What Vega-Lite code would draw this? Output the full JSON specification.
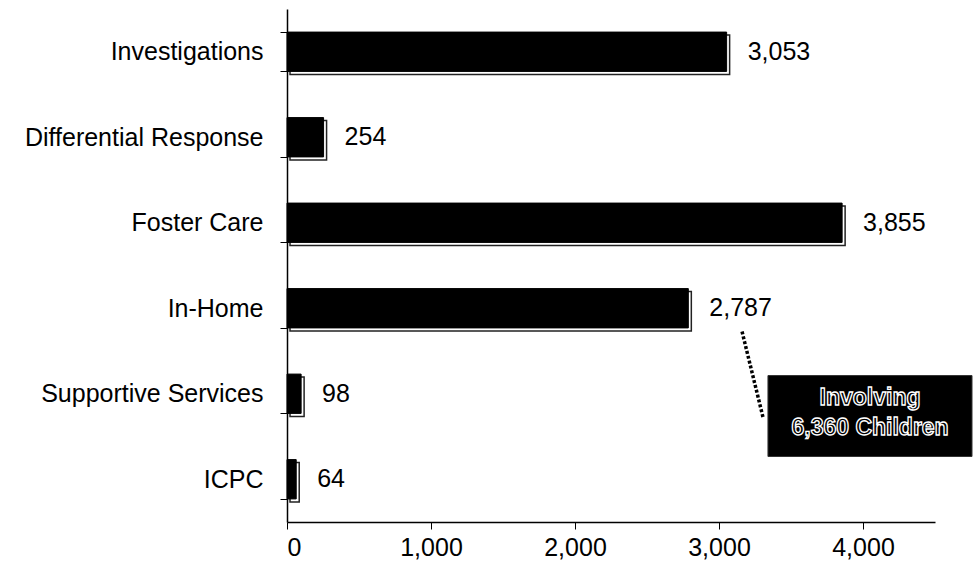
{
  "$schema": "https://vega.github.io/schema/vega-lite/v6.json",
  "autosize": {"type": "none"},
  "width": 648,
  "height": 513,
  "padding": {"left": 287, "top": 9, "right": 38, "bottom": 49},
  "background": "white",
  "config": {
    "view": {"stroke": null},
    "font": "Liberation Sans",
    "axis": {"labelFont": "Liberation Sans", "labelColor": "black", "domainColor": "black", "tickColor": "black", "grid": false, "title": null}
  },
  "datasets": {
    "bars": [
      {"category": "Investigations", "value": 3053, "label": "3,053"},
      {"category": "Differential Response", "value": 254, "label": "254"},
      {"category": "Foster Care", "value": 3855, "label": "3,855"},
      {"category": "In-Home", "value": 2787, "label": "2,787"},
      {"category": "Supportive Services", "value": 98, "label": "98"},
      {"category": "ICPC", "value": 64, "label": "64"}
    ],
    "box": [{"x": 3340, "x2": 4757, "y": 4.287, "y2": 5.234}],
    "leader": [
      {"x": 3160, "y": 3.772, "pt": 0},
      {"x": 3306, "y": 4.778, "pt": 1}
    ],
    "note": [
      {"x": 4049, "y": 4.544, "text": "Involving"},
      {"x": 4049, "y": 4.895, "text": "6,360 Children"}
    ]
  },
  "layer": [
    {
      "data": {"name": "bars"},
      "layer": [
        {
          "mark": {"type": "bar", "fill": "white", "stroke": "#222", "strokeWidth": 1.5, "xOffset": 3, "x2Offset": 3, "yOffset": 3},
          "encoding": {
            "y": {"field": "category", "type": "nominal", "sort": null,
              "scale": {"paddingInner": 0.54, "paddingOuter": 0.27},
              "axis": {"labelFontSize": 25, "labelLimit": 300, "tickBand": "extent", "tickSize": 7, "labelPadding": 17, "domainWidth": 1.5}},
            "x": {"field": "value", "type": "quantitative",
              "scale": {"domain": [0, 4500], "nice": false},
              "axis": {"values": [0, 1000, 2000, 3000, 4000], "format": ",d", "labelFontSize": 25, "tickSize": 7, "labelPadding": 6, "domainWidth": 1.5}}
          }
        },
        {
          "mark": {"type": "bar", "fill": "black", "stroke": "black", "strokeWidth": 1},
          "encoding": {
            "y": {"field": "category", "type": "nominal", "sort": null},
            "x": {"field": "value", "type": "quantitative"}
          }
        },
        {
          "mark": {"type": "text", "align": "left", "baseline": "middle", "dx": 21, "fontSize": 25, "color": "black"},
          "encoding": {
            "y": {"field": "category", "type": "nominal", "sort": null},
            "x": {"field": "value", "type": "quantitative"},
            "text": {"field": "label"}
          }
        }
      ]
    },
    {
      "layer": [
        {
          "data": {"name": "leader"},
          "mark": {"type": "line", "color": "black", "strokeWidth": 3.5, "strokeDash": [3, 2]},
          "encoding": {
            "x": {"field": "x", "type": "quantitative",
              "axis": {"values": [0, 1000, 2000, 3000, 4000], "format": ",d", "labelFontSize": 25, "tickSize": 7, "labelPadding": 6, "domainWidth": 1.5}},
            "y": {"field": "y", "type": "quantitative", "scale": {"domain": [0, 6], "reverse": true, "nice": false, "zero": false}, "axis": null},
            "order": {"field": "pt"}
          }
        },
        {
          "data": {"name": "box"},
          "mark": {"type": "rect", "fill": "black", "stroke": "#333", "strokeWidth": 1},
          "encoding": {
            "x": {"field": "x", "type": "quantitative"},
            "x2": {"field": "x2"},
            "y": {"field": "y", "type": "quantitative"},
            "y2": {"field": "y2"}
          }
        },
        {
          "data": {"name": "note"},
          "mark": {"type": "text", "align": "center", "baseline": "middle", "fontSize": 23, "fontWeight": "bold", "fill": "black", "stroke": "white", "strokeWidth": 1.3},
          "encoding": {
            "x": {"field": "x", "type": "quantitative"},
            "y": {"field": "y", "type": "quantitative"},
            "text": {"field": "text"}
          }
        }
      ]
    }
  ],
  "resolve": {"scale": {"y": "independent"}, "axis": {"y": "independent"}}
}
